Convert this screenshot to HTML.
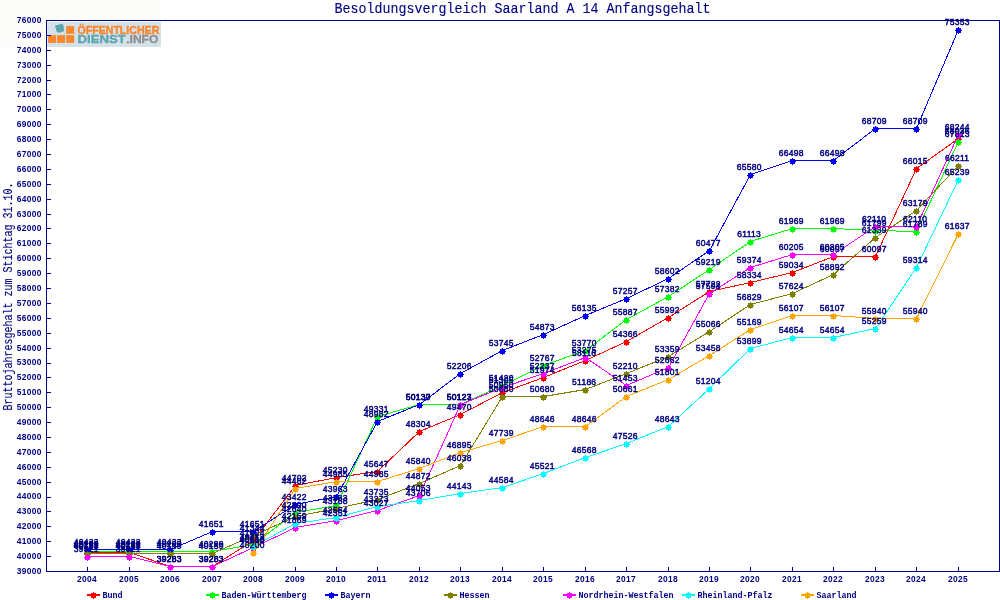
<!DOCTYPE html>
<html lang="de"><head><meta charset="utf-8">
<title>Besoldungsvergleich Saarland A 14 Anfangsgehalt</title>
<style>
html,body{margin:0;padding:0;background:#fff;}
body{width:1000px;height:600px;overflow:hidden;}
svg{display:block;}
text{font-family:"Liberation Mono","DejaVu Sans Mono",monospace;fill:#000080;}
.tb text{font-family:"Liberation Sans",sans-serif;font-size:8.4px;letter-spacing:0.33px;font-weight:bold;}
.tv text{font-family:"Liberation Sans",sans-serif;font-size:8.5px;letter-spacing:0.27px;stroke:#000080;stroke-width:0.45px;}
.lt{font-size:8.4px;font-weight:bold;}
.ttl{font-size:13.33px;stroke:#000080;stroke-width:0.12px;}
.yt{font-size:10px;stroke:#000080;stroke-width:0.12px;}
.lg text{font-family:"Liberation Sans",sans-serif;font-weight:bold;font-size:10.6px;stroke-width:0.35px;}
.ln{fill:none;stroke-width:1;shape-rendering:crispEdges;}
.mk{shape-rendering:crispEdges;}
</style></head><body>
<svg width="1000" height="600" viewBox="0 0 1000 600">
<rect width="1000" height="600" fill="#ffffff"/>
<rect x="0" y="0" width="161" height="47" fill="#fcfdfb"/>
<text class="ttl" transform="translate(334.4 12.8) scale(1 1.10)" textLength="376" lengthAdjust="spacing">Besoldungsvergleich Saarland A 14 Anfangsgehalt</text>
<text class="yt" transform="translate(11.7 410.5) rotate(-90) scale(1 1.24)" textLength="228" lengthAdjust="spacing">Bruttojahresgehalt zum Stichtag 31.10.</text>
<g class="lg">
<rect x="47.4" y="22" width="113.6" height="25" fill="#d5e1e8"/>
<rect x="48.1" y="35.2" width="8" height="7.7" fill="#fb872c"/>
<rect x="57.1" y="35.2" width="8" height="7.7" fill="#fb872c"/>
<rect x="66.2" y="35.2" width="8" height="7.7" fill="#fb872c"/>
<rect x="66.2" y="26.0" width="8" height="7.8" fill="#fb872c"/>
<path d="M55.1 25.4 L59.5 24.4 L62.3 23.4 L63.3 25.1 L64 29.3 L64.2 31.2 L61.4 31.9 L59.5 32.7 L57.2 32.2 L56.3 30.7 L56 28.4 L55.2 27 Z" fill="#5fa5b0"/>
<text x="77.5" y="33.8" textLength="81.8" lengthAdjust="spacingAndGlyphs" style="fill:#fb852a;stroke:#fb852a">ÖFFENTLICHER</text>
<text x="77.5" y="42.9" textLength="48.4" lengthAdjust="spacingAndGlyphs" style="fill:#5fa5b0;stroke:#5fa5b0">DIENST</text>
<text x="126.2" y="42.9" textLength="32.2" lengthAdjust="spacingAndGlyphs" style="fill:#8e9093;stroke:#8e9093">.INFO</text>
</g>
<g class="ln" stroke="#000080">
<path d="M46.5 20.5 H999.5 V571.5 H46.5 Z"/>
<path d="M47 571.5 h4 M47 556.5 h4 M47 541.5 h4 M47 526.5 h4 M47 511.5 h4 M47 497.5 h4 M47 482.5 h4 M47 467.5 h4 M47 452.5 h4 M47 437.5 h4 M47 422.5 h4 M47 407.5 h4 M47 392.5 h4 M47 377.5 h4 M47 363.5 h4 M47 348.5 h4 M47 333.5 h4 M47 318.5 h4 M47 303.5 h4 M47 288.5 h4 M47 273.5 h4 M47 258.5 h4 M47 243.5 h4 M47 228.5 h4 M47 214.5 h4 M47 199.5 h4 M47 184.5 h4 M47 169.5 h4 M47 154.5 h4 M47 139.5 h4 M47 124.5 h4 M47 109.5 h4 M47 94.5 h4 M47 80.5 h4 M47 65.5 h4 M47 50.5 h4 M47 35.5 h4 M47 20.5 h4"/>
<path d="M87.5 571 v-4 M129.5 571 v-4 M170.5 571 v-4 M212.5 571 v-4 M253.5 571 v-4 M295.5 571 v-4 M336.5 571 v-4 M377.5 571 v-4 M419.5 571 v-4 M460.5 571 v-4 M502.5 571 v-4 M543.5 571 v-4 M585.5 571 v-4 M626.5 571 v-4 M668.5 571 v-4 M709.5 571 v-4 M750.5 571 v-4 M792.5 571 v-4 M833.5 571 v-4 M875.5 571 v-4 M916.5 571 v-4 M958.5 571 v-4"/>
</g>
<g class="tb" text-anchor="end">
<text x="41.7" y="573.9">39000</text>
<text x="41.7" y="559.0">40000</text>
<text x="41.7" y="544.1">41000</text>
<text x="41.7" y="529.2">42000</text>
<text x="41.7" y="514.3">43000</text>
<text x="41.7" y="499.4">44000</text>
<text x="41.7" y="484.5">45000</text>
<text x="41.7" y="469.7">46000</text>
<text x="41.7" y="454.8">47000</text>
<text x="41.7" y="439.9">48000</text>
<text x="41.7" y="425.0">49000</text>
<text x="41.7" y="410.1">50000</text>
<text x="41.7" y="395.2">51000</text>
<text x="41.7" y="380.3">52000</text>
<text x="41.7" y="365.4">53000</text>
<text x="41.7" y="350.5">54000</text>
<text x="41.7" y="335.6">55000</text>
<text x="41.7" y="320.7">56000</text>
<text x="41.7" y="305.8">57000</text>
<text x="41.7" y="291.0">58000</text>
<text x="41.7" y="276.1">59000</text>
<text x="41.7" y="261.2">60000</text>
<text x="41.7" y="246.3">61000</text>
<text x="41.7" y="231.4">62000</text>
<text x="41.7" y="216.5">63000</text>
<text x="41.7" y="201.6">64000</text>
<text x="41.7" y="186.7">65000</text>
<text x="41.7" y="171.8">66000</text>
<text x="41.7" y="156.9">67000</text>
<text x="41.7" y="142.0">68000</text>
<text x="41.7" y="127.1">69000</text>
<text x="41.7" y="112.2">70000</text>
<text x="41.7" y="97.4">71000</text>
<text x="41.7" y="82.5">72000</text>
<text x="41.7" y="67.6">73000</text>
<text x="41.7" y="52.7">74000</text>
<text x="41.7" y="37.8">75000</text>
<text x="41.7" y="22.9">76000</text>
</g>
<g class="tb" text-anchor="middle">
<text x="86.9" y="581.9">2004</text>
<text x="128.9" y="581.9">2005</text>
<text x="169.9" y="581.9">2006</text>
<text x="211.9" y="581.9">2007</text>
<text x="252.9" y="581.9">2008</text>
<text x="294.9" y="581.9">2009</text>
<text x="335.9" y="581.9">2010</text>
<text x="376.9" y="581.9">2011</text>
<text x="418.9" y="581.9">2012</text>
<text x="459.9" y="581.9">2013</text>
<text x="501.9" y="581.9">2014</text>
<text x="542.9" y="581.9">2015</text>
<text x="584.9" y="581.9">2016</text>
<text x="625.9" y="581.9">2017</text>
<text x="667.9" y="581.9">2018</text>
<text x="708.9" y="581.9">2019</text>
<text x="749.9" y="581.9">2020</text>
<text x="791.9" y="581.9">2021</text>
<text x="832.9" y="581.9">2022</text>
<text x="874.9" y="581.9">2023</text>
<text x="915.9" y="581.9">2024</text>
<text x="957.9" y="581.9">2025</text>
</g>
<g>
<polyline class="ln" stroke="#ff0000" points="87.5,552.5 129.5,552.5 170.5,566.5 212.5,566.5 253.5,540.5 295.5,485.5 336.5,477.5 377.5,471.5 419.5,431.5 460.5,414.5 502.5,392.5 543.5,377.5 585.5,360.5 626.5,341.5 668.5,317.5 709.5,291.5 750.5,282.5 792.5,272.5 833.5,256.5 875.5,256.5 916.5,168.5 958.5,138.5"/>
<path class="mk" fill="#ff0000" d="M85 551h5v5h-5zM84 553h7v1h-7zM87 550h1v7h-1z"/><path class="mk" fill="#ff0000" d="M127 551h5v5h-5zM126 553h7v1h-7zM129 550h1v7h-1z"/><path class="mk" fill="#ff0000" d="M168 565h5v5h-5zM167 567h7v1h-7zM170 564h1v7h-1z"/><path class="mk" fill="#ff0000" d="M210 565h5v5h-5zM209 567h7v1h-7zM212 564h1v7h-1z"/><path class="mk" fill="#ff0000" d="M251 539h5v5h-5zM250 541h7v1h-7zM253 538h1v7h-1z"/><path class="mk" fill="#ff0000" d="M293 484h5v5h-5zM292 486h7v1h-7zM295 483h1v7h-1z"/><path class="mk" fill="#ff0000" d="M334 476h5v5h-5zM333 478h7v1h-7zM336 475h1v7h-1z"/><path class="mk" fill="#ff0000" d="M375 470h5v5h-5zM374 472h7v1h-7zM377 469h1v7h-1z"/><path class="mk" fill="#ff0000" d="M417 430h5v5h-5zM416 432h7v1h-7zM419 429h1v7h-1z"/><path class="mk" fill="#ff0000" d="M458 413h5v5h-5zM457 415h7v1h-7zM460 412h1v7h-1z"/><path class="mk" fill="#ff0000" d="M500 391h5v5h-5zM499 393h7v1h-7zM502 390h1v7h-1z"/><path class="mk" fill="#ff0000" d="M541 376h5v5h-5zM540 378h7v1h-7zM543 375h1v7h-1z"/><path class="mk" fill="#ff0000" d="M583 359h5v5h-5zM582 361h7v1h-7zM585 358h1v7h-1z"/><path class="mk" fill="#ff0000" d="M624 340h5v5h-5zM623 342h7v1h-7zM626 339h1v7h-1z"/><path class="mk" fill="#ff0000" d="M666 316h5v5h-5zM665 318h7v1h-7zM668 315h1v7h-1z"/><path class="mk" fill="#ff0000" d="M707 290h5v5h-5zM706 292h7v1h-7zM709 289h1v7h-1z"/><path class="mk" fill="#ff0000" d="M748 281h5v5h-5zM747 283h7v1h-7zM750 280h1v7h-1z"/><path class="mk" fill="#ff0000" d="M790 271h5v5h-5zM789 273h7v1h-7zM792 270h1v7h-1z"/><path class="mk" fill="#ff0000" d="M831 255h5v5h-5zM830 257h7v1h-7zM833 254h1v7h-1z"/><path class="mk" fill="#ff0000" d="M873 255h5v5h-5zM872 257h7v1h-7zM875 254h1v7h-1z"/><path class="mk" fill="#ff0000" d="M914 167h5v5h-5zM913 169h7v1h-7zM916 166h1v7h-1z"/><path class="mk" fill="#ff0000" d="M956 137h5v5h-5zM955 139h7v1h-7zM958 136h1v7h-1z"/>
</g>
<g>
<polyline class="ln" stroke="#00ff00" points="87.5,551.5 129.5,551.5 170.5,551.5 212.5,551.5 253.5,544.5 295.5,512.5 336.5,505.5 377.5,416.5 419.5,404.5 460.5,404.5 502.5,385.5 543.5,365.5 585.5,350.5 626.5,319.5 668.5,296.5 709.5,269.5 750.5,241.5 792.5,228.5 833.5,228.5 875.5,230.5 916.5,231.5 958.5,141.5"/>
<path class="mk" fill="#00ff00" d="M85 550h5v5h-5zM84 552h7v1h-7zM87 549h1v7h-1z"/><path class="mk" fill="#00ff00" d="M127 550h5v5h-5zM126 552h7v1h-7zM129 549h1v7h-1z"/><path class="mk" fill="#00ff00" d="M168 550h5v5h-5zM167 552h7v1h-7zM170 549h1v7h-1z"/><path class="mk" fill="#00ff00" d="M210 550h5v5h-5zM209 552h7v1h-7zM212 549h1v7h-1z"/><path class="mk" fill="#00ff00" d="M251 543h5v5h-5zM250 545h7v1h-7zM253 542h1v7h-1z"/><path class="mk" fill="#00ff00" d="M293 511h5v5h-5zM292 513h7v1h-7zM295 510h1v7h-1z"/><path class="mk" fill="#00ff00" d="M334 504h5v5h-5zM333 506h7v1h-7zM336 503h1v7h-1z"/><path class="mk" fill="#00ff00" d="M375 415h5v5h-5zM374 417h7v1h-7zM377 414h1v7h-1z"/><path class="mk" fill="#00ff00" d="M417 403h5v5h-5zM416 405h7v1h-7zM419 402h1v7h-1z"/><path class="mk" fill="#00ff00" d="M458 403h5v5h-5zM457 405h7v1h-7zM460 402h1v7h-1z"/><path class="mk" fill="#00ff00" d="M500 384h5v5h-5zM499 386h7v1h-7zM502 383h1v7h-1z"/><path class="mk" fill="#00ff00" d="M541 364h5v5h-5zM540 366h7v1h-7zM543 363h1v7h-1z"/><path class="mk" fill="#00ff00" d="M583 349h5v5h-5zM582 351h7v1h-7zM585 348h1v7h-1z"/><path class="mk" fill="#00ff00" d="M624 318h5v5h-5zM623 320h7v1h-7zM626 317h1v7h-1z"/><path class="mk" fill="#00ff00" d="M666 295h5v5h-5zM665 297h7v1h-7zM668 294h1v7h-1z"/><path class="mk" fill="#00ff00" d="M707 268h5v5h-5zM706 270h7v1h-7zM709 267h1v7h-1z"/><path class="mk" fill="#00ff00" d="M748 240h5v5h-5zM747 242h7v1h-7zM750 239h1v7h-1z"/><path class="mk" fill="#00ff00" d="M790 227h5v5h-5zM789 229h7v1h-7zM792 226h1v7h-1z"/><path class="mk" fill="#00ff00" d="M831 227h5v5h-5zM830 229h7v1h-7zM833 226h1v7h-1z"/><path class="mk" fill="#00ff00" d="M873 229h5v5h-5zM872 231h7v1h-7zM875 228h1v7h-1z"/><path class="mk" fill="#00ff00" d="M914 230h5v5h-5zM913 232h7v1h-7zM916 229h1v7h-1z"/><path class="mk" fill="#00ff00" d="M956 140h5v5h-5zM955 142h7v1h-7zM958 139h1v7h-1z"/>
</g>
<g>
<polyline class="ln" stroke="#0000ff" points="87.5,549.5 129.5,549.5 170.5,549.5 212.5,531.5 253.5,531.5 295.5,504.5 336.5,496.5 377.5,421.5 419.5,404.5 460.5,373.5 502.5,350.5 543.5,334.5 585.5,315.5 626.5,298.5 668.5,278.5 709.5,250.5 750.5,174.5 792.5,160.5 833.5,160.5 875.5,128.5 916.5,128.5 958.5,29.5"/>
<path class="mk" fill="#0000ff" d="M85 548h5v5h-5zM84 550h7v1h-7zM87 547h1v7h-1z"/><path class="mk" fill="#0000ff" d="M127 548h5v5h-5zM126 550h7v1h-7zM129 547h1v7h-1z"/><path class="mk" fill="#0000ff" d="M168 548h5v5h-5zM167 550h7v1h-7zM170 547h1v7h-1z"/><path class="mk" fill="#0000ff" d="M210 530h5v5h-5zM209 532h7v1h-7zM212 529h1v7h-1z"/><path class="mk" fill="#0000ff" d="M251 530h5v5h-5zM250 532h7v1h-7zM253 529h1v7h-1z"/><path class="mk" fill="#0000ff" d="M293 503h5v5h-5zM292 505h7v1h-7zM295 502h1v7h-1z"/><path class="mk" fill="#0000ff" d="M334 495h5v5h-5zM333 497h7v1h-7zM336 494h1v7h-1z"/><path class="mk" fill="#0000ff" d="M375 420h5v5h-5zM374 422h7v1h-7zM377 419h1v7h-1z"/><path class="mk" fill="#0000ff" d="M417 403h5v5h-5zM416 405h7v1h-7zM419 402h1v7h-1z"/><path class="mk" fill="#0000ff" d="M458 372h5v5h-5zM457 374h7v1h-7zM460 371h1v7h-1z"/><path class="mk" fill="#0000ff" d="M500 349h5v5h-5zM499 351h7v1h-7zM502 348h1v7h-1z"/><path class="mk" fill="#0000ff" d="M541 333h5v5h-5zM540 335h7v1h-7zM543 332h1v7h-1z"/><path class="mk" fill="#0000ff" d="M583 314h5v5h-5zM582 316h7v1h-7zM585 313h1v7h-1z"/><path class="mk" fill="#0000ff" d="M624 297h5v5h-5zM623 299h7v1h-7zM626 296h1v7h-1z"/><path class="mk" fill="#0000ff" d="M666 277h5v5h-5zM665 279h7v1h-7zM668 276h1v7h-1z"/><path class="mk" fill="#0000ff" d="M707 249h5v5h-5zM706 251h7v1h-7zM709 248h1v7h-1z"/><path class="mk" fill="#0000ff" d="M748 173h5v5h-5zM747 175h7v1h-7zM750 172h1v7h-1z"/><path class="mk" fill="#0000ff" d="M790 159h5v5h-5zM789 161h7v1h-7zM792 158h1v7h-1z"/><path class="mk" fill="#0000ff" d="M831 159h5v5h-5zM830 161h7v1h-7zM833 158h1v7h-1z"/><path class="mk" fill="#0000ff" d="M873 127h5v5h-5zM872 129h7v1h-7zM875 126h1v7h-1z"/><path class="mk" fill="#0000ff" d="M914 127h5v5h-5zM913 129h7v1h-7zM916 126h1v7h-1z"/><path class="mk" fill="#0000ff" d="M956 28h5v5h-5zM955 30h7v1h-7zM958 27h1v7h-1z"/>
</g>
<g>
<polyline class="ln" stroke="#808000" points="87.5,553.5 129.5,553.5 170.5,553.5 212.5,553.5 253.5,535.5 295.5,516.5 336.5,508.5 377.5,499.5 419.5,483.5 460.5,465.5 502.5,396.5 543.5,396.5 585.5,389.5 626.5,373.5 668.5,356.5 709.5,331.5 750.5,304.5 792.5,293.5 833.5,274.5 875.5,237.5 916.5,210.5 958.5,165.5"/>
<path class="mk" fill="#808000" d="M85 552h5v5h-5zM84 554h7v1h-7zM87 551h1v7h-1z"/><path class="mk" fill="#808000" d="M127 552h5v5h-5zM126 554h7v1h-7zM129 551h1v7h-1z"/><path class="mk" fill="#808000" d="M168 552h5v5h-5zM167 554h7v1h-7zM170 551h1v7h-1z"/><path class="mk" fill="#808000" d="M210 552h5v5h-5zM209 554h7v1h-7zM212 551h1v7h-1z"/><path class="mk" fill="#808000" d="M251 534h5v5h-5zM250 536h7v1h-7zM253 533h1v7h-1z"/><path class="mk" fill="#808000" d="M293 515h5v5h-5zM292 517h7v1h-7zM295 514h1v7h-1z"/><path class="mk" fill="#808000" d="M334 507h5v5h-5zM333 509h7v1h-7zM336 506h1v7h-1z"/><path class="mk" fill="#808000" d="M375 498h5v5h-5zM374 500h7v1h-7zM377 497h1v7h-1z"/><path class="mk" fill="#808000" d="M417 482h5v5h-5zM416 484h7v1h-7zM419 481h1v7h-1z"/><path class="mk" fill="#808000" d="M458 464h5v5h-5zM457 466h7v1h-7zM460 463h1v7h-1z"/><path class="mk" fill="#808000" d="M500 395h5v5h-5zM499 397h7v1h-7zM502 394h1v7h-1z"/><path class="mk" fill="#808000" d="M541 395h5v5h-5zM540 397h7v1h-7zM543 394h1v7h-1z"/><path class="mk" fill="#808000" d="M583 388h5v5h-5zM582 390h7v1h-7zM585 387h1v7h-1z"/><path class="mk" fill="#808000" d="M624 372h5v5h-5zM623 374h7v1h-7zM626 371h1v7h-1z"/><path class="mk" fill="#808000" d="M666 355h5v5h-5zM665 357h7v1h-7zM668 354h1v7h-1z"/><path class="mk" fill="#808000" d="M707 330h5v5h-5zM706 332h7v1h-7zM709 329h1v7h-1z"/><path class="mk" fill="#808000" d="M748 303h5v5h-5zM747 305h7v1h-7zM750 302h1v7h-1z"/><path class="mk" fill="#808000" d="M790 292h5v5h-5zM789 294h7v1h-7zM792 291h1v7h-1z"/><path class="mk" fill="#808000" d="M831 273h5v5h-5zM830 275h7v1h-7zM833 272h1v7h-1z"/><path class="mk" fill="#808000" d="M873 236h5v5h-5zM872 238h7v1h-7zM875 235h1v7h-1z"/><path class="mk" fill="#808000" d="M914 209h5v5h-5zM913 211h7v1h-7zM916 208h1v7h-1z"/><path class="mk" fill="#808000" d="M956 164h5v5h-5zM955 166h7v1h-7zM958 163h1v7h-1z"/>
</g>
<g>
<polyline class="ln" stroke="#ff00ff" points="87.5,556.5 129.5,556.5 170.5,566.5 212.5,566.5 253.5,547.5 295.5,527.5 336.5,520.5 377.5,510.5 419.5,495.5 460.5,404.5 502.5,387.5 543.5,373.5 585.5,357.5 626.5,385.5 668.5,367.5 709.5,293.5 750.5,267.5 792.5,254.5 833.5,254.5 875.5,226.5 916.5,226.5 958.5,134.5"/>
<path class="mk" fill="#ff00ff" d="M85 555h5v5h-5zM84 557h7v1h-7zM87 554h1v7h-1z"/><path class="mk" fill="#ff00ff" d="M127 555h5v5h-5zM126 557h7v1h-7zM129 554h1v7h-1z"/><path class="mk" fill="#ff00ff" d="M168 565h5v5h-5zM167 567h7v1h-7zM170 564h1v7h-1z"/><path class="mk" fill="#ff00ff" d="M210 565h5v5h-5zM209 567h7v1h-7zM212 564h1v7h-1z"/><path class="mk" fill="#ff00ff" d="M251 546h5v5h-5zM250 548h7v1h-7zM253 545h1v7h-1z"/><path class="mk" fill="#ff00ff" d="M293 526h5v5h-5zM292 528h7v1h-7zM295 525h1v7h-1z"/><path class="mk" fill="#ff00ff" d="M334 519h5v5h-5zM333 521h7v1h-7zM336 518h1v7h-1z"/><path class="mk" fill="#ff00ff" d="M375 509h5v5h-5zM374 511h7v1h-7zM377 508h1v7h-1z"/><path class="mk" fill="#ff00ff" d="M417 494h5v5h-5zM416 496h7v1h-7zM419 493h1v7h-1z"/><path class="mk" fill="#ff00ff" d="M458 403h5v5h-5zM457 405h7v1h-7zM460 402h1v7h-1z"/><path class="mk" fill="#ff00ff" d="M500 386h5v5h-5zM499 388h7v1h-7zM502 385h1v7h-1z"/><path class="mk" fill="#ff00ff" d="M541 372h5v5h-5zM540 374h7v1h-7zM543 371h1v7h-1z"/><path class="mk" fill="#ff00ff" d="M583 356h5v5h-5zM582 358h7v1h-7zM585 355h1v7h-1z"/><path class="mk" fill="#ff00ff" d="M624 384h5v5h-5zM623 386h7v1h-7zM626 383h1v7h-1z"/><path class="mk" fill="#ff00ff" d="M666 366h5v5h-5zM665 368h7v1h-7zM668 365h1v7h-1z"/><path class="mk" fill="#ff00ff" d="M707 292h5v5h-5zM706 294h7v1h-7zM709 291h1v7h-1z"/><path class="mk" fill="#ff00ff" d="M748 266h5v5h-5zM747 268h7v1h-7zM750 265h1v7h-1z"/><path class="mk" fill="#ff00ff" d="M790 253h5v5h-5zM789 255h7v1h-7zM792 252h1v7h-1z"/><path class="mk" fill="#ff00ff" d="M831 253h5v5h-5zM830 255h7v1h-7zM833 252h1v7h-1z"/><path class="mk" fill="#ff00ff" d="M873 225h5v5h-5zM872 227h7v1h-7zM875 224h1v7h-1z"/><path class="mk" fill="#ff00ff" d="M914 225h5v5h-5zM913 227h7v1h-7zM916 224h1v7h-1z"/><path class="mk" fill="#ff00ff" d="M956 133h5v5h-5zM955 135h7v1h-7zM958 132h1v7h-1z"/>
</g>
<g>
<polyline class="ln" stroke="#00ffff" points="253.5,546.5 295.5,523.5 336.5,517.5 377.5,506.5 419.5,500.5 460.5,493.5 502.5,487.5 543.5,473.5 585.5,457.5 626.5,443.5 668.5,426.5 709.5,388.5 750.5,348.5 792.5,337.5 833.5,337.5 875.5,328.5 916.5,267.5 958.5,179.5"/>
<path class="mk" fill="#00ffff" d="M251 545h5v5h-5zM250 547h7v1h-7zM253 544h1v7h-1z"/><path class="mk" fill="#00ffff" d="M293 522h5v5h-5zM292 524h7v1h-7zM295 521h1v7h-1z"/><path class="mk" fill="#00ffff" d="M334 516h5v5h-5zM333 518h7v1h-7zM336 515h1v7h-1z"/><path class="mk" fill="#00ffff" d="M375 505h5v5h-5zM374 507h7v1h-7zM377 504h1v7h-1z"/><path class="mk" fill="#00ffff" d="M417 499h5v5h-5zM416 501h7v1h-7zM419 498h1v7h-1z"/><path class="mk" fill="#00ffff" d="M458 492h5v5h-5zM457 494h7v1h-7zM460 491h1v7h-1z"/><path class="mk" fill="#00ffff" d="M500 486h5v5h-5zM499 488h7v1h-7zM502 485h1v7h-1z"/><path class="mk" fill="#00ffff" d="M541 472h5v5h-5zM540 474h7v1h-7zM543 471h1v7h-1z"/><path class="mk" fill="#00ffff" d="M583 456h5v5h-5zM582 458h7v1h-7zM585 455h1v7h-1z"/><path class="mk" fill="#00ffff" d="M624 442h5v5h-5zM623 444h7v1h-7zM626 441h1v7h-1z"/><path class="mk" fill="#00ffff" d="M666 425h5v5h-5zM665 427h7v1h-7zM668 424h1v7h-1z"/><path class="mk" fill="#00ffff" d="M707 387h5v5h-5zM706 389h7v1h-7zM709 386h1v7h-1z"/><path class="mk" fill="#00ffff" d="M748 347h5v5h-5zM747 349h7v1h-7zM750 346h1v7h-1z"/><path class="mk" fill="#00ffff" d="M790 336h5v5h-5zM789 338h7v1h-7zM792 335h1v7h-1z"/><path class="mk" fill="#00ffff" d="M831 336h5v5h-5zM830 338h7v1h-7zM833 335h1v7h-1z"/><path class="mk" fill="#00ffff" d="M873 327h5v5h-5zM872 329h7v1h-7zM875 326h1v7h-1z"/><path class="mk" fill="#00ffff" d="M914 266h5v5h-5zM913 268h7v1h-7zM916 265h1v7h-1z"/><path class="mk" fill="#00ffff" d="M956 178h5v5h-5zM955 180h7v1h-7zM958 177h1v7h-1z"/>
</g>
<g>
<polyline class="ln" stroke="#ffa500" points="253.5,552.5 295.5,488.5 336.5,481.5 377.5,481.5 419.5,468.5 460.5,452.5 502.5,440.5 543.5,426.5 585.5,426.5 626.5,396.5 668.5,379.5 709.5,355.5 750.5,329.5 792.5,315.5 833.5,315.5 875.5,318.5 916.5,318.5 958.5,233.5"/>
<path class="mk" fill="#ffa500" d="M251 551h5v5h-5zM250 553h7v1h-7zM253 550h1v7h-1z"/><path class="mk" fill="#ffa500" d="M293 487h5v5h-5zM292 489h7v1h-7zM295 486h1v7h-1z"/><path class="mk" fill="#ffa500" d="M334 480h5v5h-5zM333 482h7v1h-7zM336 479h1v7h-1z"/><path class="mk" fill="#ffa500" d="M375 480h5v5h-5zM374 482h7v1h-7zM377 479h1v7h-1z"/><path class="mk" fill="#ffa500" d="M417 467h5v5h-5zM416 469h7v1h-7zM419 466h1v7h-1z"/><path class="mk" fill="#ffa500" d="M458 451h5v5h-5zM457 453h7v1h-7zM460 450h1v7h-1z"/><path class="mk" fill="#ffa500" d="M500 439h5v5h-5zM499 441h7v1h-7zM502 438h1v7h-1z"/><path class="mk" fill="#ffa500" d="M541 425h5v5h-5zM540 427h7v1h-7zM543 424h1v7h-1z"/><path class="mk" fill="#ffa500" d="M583 425h5v5h-5zM582 427h7v1h-7zM585 424h1v7h-1z"/><path class="mk" fill="#ffa500" d="M624 395h5v5h-5zM623 397h7v1h-7zM626 394h1v7h-1z"/><path class="mk" fill="#ffa500" d="M666 378h5v5h-5zM665 380h7v1h-7zM668 377h1v7h-1z"/><path class="mk" fill="#ffa500" d="M707 354h5v5h-5zM706 356h7v1h-7zM709 353h1v7h-1z"/><path class="mk" fill="#ffa500" d="M748 328h5v5h-5zM747 330h7v1h-7zM750 327h1v7h-1z"/><path class="mk" fill="#ffa500" d="M790 314h5v5h-5zM789 316h7v1h-7zM792 313h1v7h-1z"/><path class="mk" fill="#ffa500" d="M831 314h5v5h-5zM830 316h7v1h-7zM833 313h1v7h-1z"/><path class="mk" fill="#ffa500" d="M873 317h5v5h-5zM872 319h7v1h-7zM875 316h1v7h-1z"/><path class="mk" fill="#ffa500" d="M914 317h5v5h-5zM913 319h7v1h-7zM916 316h1v7h-1z"/><path class="mk" fill="#ffa500" d="M956 232h5v5h-5zM955 234h7v1h-7zM958 231h1v7h-1z"/>
</g>
<g class="tv" text-anchor="middle">
<text x="86.2" y="548.0">40231</text>
<text x="128.2" y="548.0">40231</text>
<text x="169.2" y="562.0">39283</text>
<text x="211.2" y="562.0">39283</text>
<text x="252.2" y="536.0">41024</text>
<text x="294.2" y="481.0">44702</text>
<text x="335.2" y="473.0">45230</text>
<text x="376.2" y="467.0">45647</text>
<text x="418.2" y="427.0">48304</text>
<text x="459.2" y="410.0">49470</text>
<text x="501.2" y="388.0">50950</text>
<text x="542.2" y="373.0">51974</text>
<text x="584.2" y="356.0">53116</text>
<text x="625.2" y="337.0">54366</text>
<text x="667.2" y="313.0">55992</text>
<text x="708.2" y="287.0">57722</text>
<text x="749.2" y="278.0">58334</text>
<text x="791.2" y="268.0">59034</text>
<text x="832.2" y="252.0">60097</text>
<text x="874.2" y="252.0">60097</text>
<text x="915.2" y="164.0">66015</text>
<text x="957.2" y="134.0">68036</text>
</g>
<g class="tv" text-anchor="middle">
<text x="86.2" y="547.0">40299</text>
<text x="128.2" y="547.0">40299</text>
<text x="169.2" y="547.0">40299</text>
<text x="211.2" y="547.0">40299</text>
<text x="252.2" y="540.0">40713</text>
<text x="294.2" y="508.0">42890</text>
<text x="335.2" y="501.0">43383</text>
<text x="376.2" y="412.0">49331</text>
<text x="418.2" y="400.0">50130</text>
<text x="459.2" y="400.0">50127</text>
<text x="501.2" y="381.0">51420</text>
<text x="542.2" y="361.0">52767</text>
<text x="584.2" y="346.0">53770</text>
<text x="625.2" y="315.0">55887</text>
<text x="667.2" y="292.0">57382</text>
<text x="708.2" y="265.0">59219</text>
<text x="749.2" y="237.0">61113</text>
<text x="791.2" y="224.0">61969</text>
<text x="832.2" y="224.0">61969</text>
<text x="874.2" y="226.0">61799</text>
<text x="915.2" y="227.0">61789</text>
<text x="957.2" y="137.0">67813</text>
</g>
<g class="tv" text-anchor="middle">
<text x="86.2" y="545.0">40433</text>
<text x="128.2" y="545.0">40433</text>
<text x="169.2" y="545.0">40433</text>
<text x="211.2" y="527.0">41651</text>
<text x="252.2" y="527.0">41651</text>
<text x="294.2" y="500.0">43422</text>
<text x="335.2" y="492.0">43963</text>
<text x="376.2" y="417.0">48982</text>
<text x="418.2" y="400.0">50137</text>
<text x="459.2" y="369.0">52206</text>
<text x="501.2" y="346.0">53745</text>
<text x="542.2" y="330.0">54873</text>
<text x="584.2" y="311.0">56135</text>
<text x="625.2" y="294.0">57257</text>
<text x="667.2" y="274.0">58602</text>
<text x="708.2" y="246.0">60477</text>
<text x="749.2" y="170.0">65580</text>
<text x="791.2" y="156.0">66498</text>
<text x="832.2" y="156.0">66498</text>
<text x="874.2" y="124.0">68709</text>
<text x="915.2" y="124.0">68709</text>
<text x="957.2" y="25.0">75353</text>
</g>
<g class="tv" text-anchor="middle">
<text x="86.2" y="549.0">40159</text>
<text x="128.2" y="549.0">40159</text>
<text x="169.2" y="549.0">40159</text>
<text x="211.2" y="549.0">40159</text>
<text x="252.2" y="531.0">41344</text>
<text x="294.2" y="512.0">42640</text>
<text x="335.2" y="504.0">43188</text>
<text x="376.2" y="495.0">43735</text>
<text x="418.2" y="479.0">44872</text>
<text x="459.2" y="461.0">46038</text>
<text x="501.2" y="392.0">50680</text>
<text x="542.2" y="392.0">50680</text>
<text x="584.2" y="385.0">51186</text>
<text x="625.2" y="369.0">52210</text>
<text x="667.2" y="352.0">53359</text>
<text x="708.2" y="327.0">55066</text>
<text x="749.2" y="300.0">56829</text>
<text x="791.2" y="289.0">57624</text>
<text x="832.2" y="270.0">58892</text>
<text x="874.2" y="233.0">61339</text>
<text x="915.2" y="206.0">63179</text>
<text x="957.2" y="161.0">66211</text>
</g>
<g class="tv" text-anchor="middle">
<text x="86.2" y="552.0">39921</text>
<text x="128.2" y="552.0">39921</text>
<text x="169.2" y="562.0">39283</text>
<text x="211.2" y="562.0">39283</text>
<text x="252.2" y="543.0">40560</text>
<text x="294.2" y="523.0">41869</text>
<text x="335.2" y="516.0">42351</text>
<text x="376.2" y="506.0">43027</text>
<text x="418.2" y="491.0">44053</text>
<text x="459.2" y="400.0">50123</text>
<text x="501.2" y="383.0">51305</text>
<text x="542.2" y="369.0">52237</text>
<text x="584.2" y="353.0">53275</text>
<text x="625.2" y="381.0">51453</text>
<text x="667.2" y="363.0">52662</text>
<text x="708.2" y="289.0">57593</text>
<text x="749.2" y="263.0">59374</text>
<text x="791.2" y="250.0">60205</text>
<text x="832.2" y="250.0">60205</text>
<text x="874.2" y="222.0">62110</text>
<text x="915.2" y="222.0">62110</text>
<text x="957.2" y="130.0">68244</text>
</g>
<g class="tv" text-anchor="middle">
<text x="252.2" y="542.0">40613</text>
<text x="294.2" y="519.0">42159</text>
<text x="335.2" y="513.0">42564</text>
<text x="376.2" y="502.0">43273</text>
<text x="418.2" y="496.0">43706</text>
<text x="459.2" y="489.0">44143</text>
<text x="501.2" y="483.0">44584</text>
<text x="542.2" y="469.0">45521</text>
<text x="584.2" y="453.0">46568</text>
<text x="625.2" y="439.0">47526</text>
<text x="667.2" y="422.0">48643</text>
<text x="708.2" y="384.0">51204</text>
<text x="749.2" y="344.0">53899</text>
<text x="791.2" y="333.0">54654</text>
<text x="832.2" y="333.0">54654</text>
<text x="874.2" y="324.0">55259</text>
<text x="915.2" y="263.0">59314</text>
<text x="957.2" y="175.0">65239</text>
</g>
<g class="tv" text-anchor="middle">
<text x="252.2" y="548.0">40200</text>
<text x="294.2" y="484.0">44482</text>
<text x="335.2" y="477.0">44985</text>
<text x="376.2" y="477.0">44985</text>
<text x="418.2" y="464.0">45840</text>
<text x="459.2" y="448.0">46895</text>
<text x="501.2" y="436.0">47739</text>
<text x="542.2" y="422.0">48646</text>
<text x="584.2" y="422.0">48646</text>
<text x="625.2" y="392.0">50661</text>
<text x="667.2" y="375.0">51801</text>
<text x="708.2" y="351.0">53458</text>
<text x="749.2" y="325.0">55169</text>
<text x="791.2" y="311.0">56107</text>
<text x="832.2" y="311.0">56107</text>
<text x="874.2" y="314.0">55940</text>
<text x="915.2" y="314.0">55940</text>
<text x="957.2" y="229.0">61637</text>
</g>
<g>
<rect class="mk" fill="#ff0000" x="87" y="594" width="13" height="2"/>
<path class="mk" fill="#ff0000" d="M91 593h5v5h-5zM90 595h7v1h-7zM93 592h1v7h-1z"/>
<text class="lt" transform="translate(102.5 598.0) scale(1 1.15)" textLength="20" lengthAdjust="spacing">Bund</text>
<rect class="mk" fill="#00ff00" x="206" y="594" width="13" height="2"/>
<path class="mk" fill="#00ff00" d="M210 593h5v5h-5zM209 595h7v1h-7zM212 592h1v7h-1z"/>
<text class="lt" transform="translate(221.5 598.0) scale(1 1.15)" textLength="85" lengthAdjust="spacing">Baden-Württemberg</text>
<rect class="mk" fill="#0000ff" x="325" y="594" width="13" height="2"/>
<path class="mk" fill="#0000ff" d="M329 593h5v5h-5zM328 595h7v1h-7zM331 592h1v7h-1z"/>
<text class="lt" transform="translate(340.5 598.0) scale(1 1.15)" textLength="30" lengthAdjust="spacing">Bayern</text>
<rect class="mk" fill="#808000" x="444" y="594" width="13" height="2"/>
<path class="mk" fill="#808000" d="M448 593h5v5h-5zM447 595h7v1h-7zM450 592h1v7h-1z"/>
<text class="lt" transform="translate(459.5 598.0) scale(1 1.15)" textLength="30" lengthAdjust="spacing">Hessen</text>
<rect class="mk" fill="#ff00ff" x="563" y="594" width="13" height="2"/>
<path class="mk" fill="#ff00ff" d="M567 593h5v5h-5zM566 595h7v1h-7zM569 592h1v7h-1z"/>
<text class="lt" transform="translate(578.5 598.0) scale(1 1.15)" textLength="95" lengthAdjust="spacing">Nordrhein-Westfalen</text>
<rect class="mk" fill="#00ffff" x="682" y="594" width="13" height="2"/>
<path class="mk" fill="#00ffff" d="M686 593h5v5h-5zM685 595h7v1h-7zM688 592h1v7h-1z"/>
<text class="lt" transform="translate(697.5 598.0) scale(1 1.15)" textLength="75" lengthAdjust="spacing">Rheinland-Pfalz</text>
<rect class="mk" fill="#ffa500" x="801" y="594" width="13" height="2"/>
<path class="mk" fill="#ffa500" d="M805 593h5v5h-5zM804 595h7v1h-7zM807 592h1v7h-1z"/>
<text class="lt" transform="translate(816.5 598.0) scale(1 1.15)" textLength="40" lengthAdjust="spacing">Saarland</text>
</g>
</svg>
</body></html>
